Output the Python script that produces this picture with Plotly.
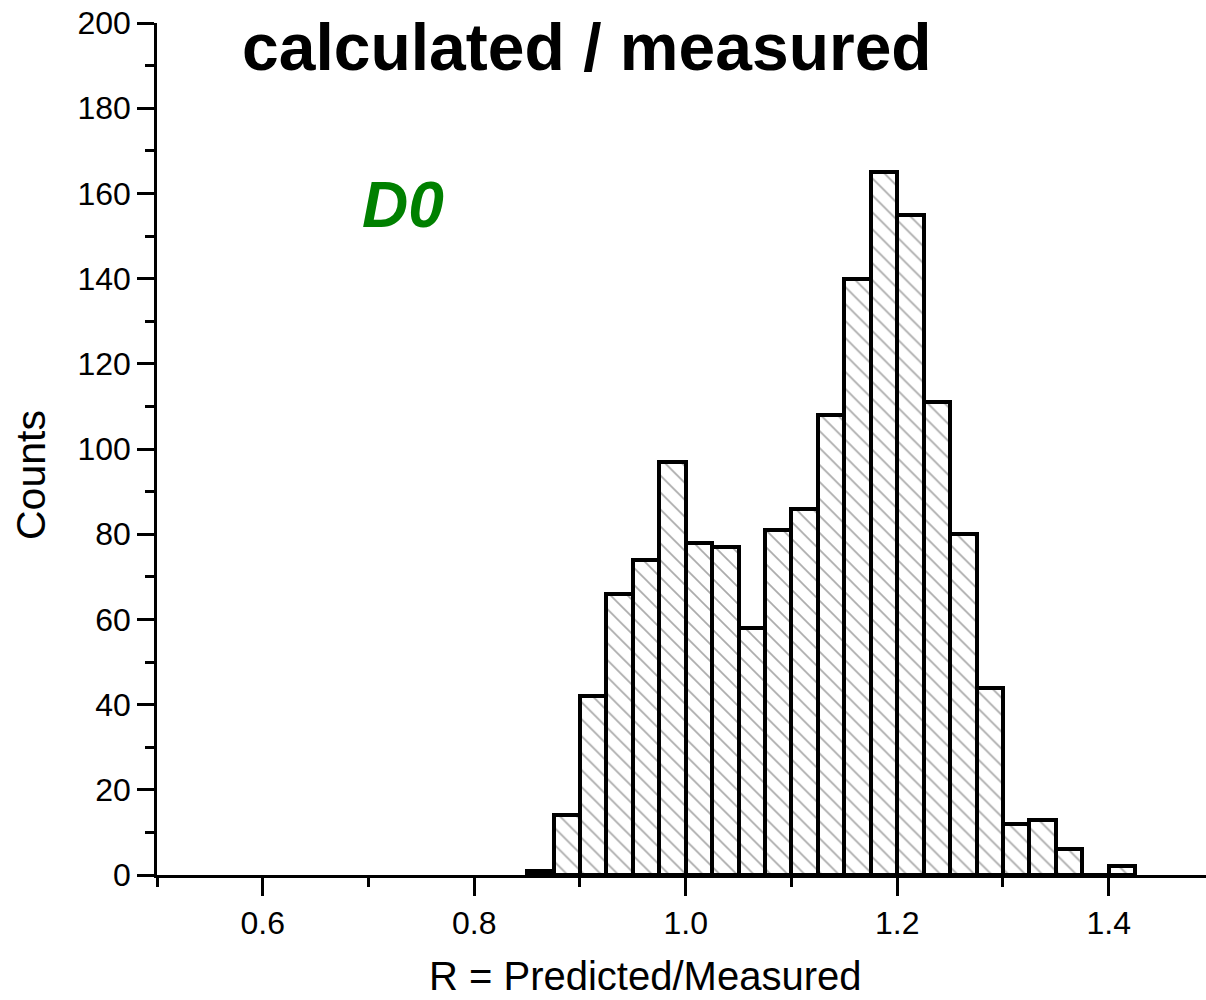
import plotly.graph_objects as go

bin_left = [0.85, 0.875, 0.9, 0.925, 0.95, 0.975, 1.0, 1.025, 1.05, 1.075, 1.1,
            1.125, 1.15, 1.175, 1.2, 1.225, 1.25, 1.275, 1.3, 1.325, 1.35, 1.375, 1.4]
counts = [1, 14, 42, 66, 74, 97, 78, 77, 58, 81, 86,
          108, 140, 165, 155, 111, 80, 44, 12, 13, 6, 0, 2]
bin_width = 0.025
x_tickvals = [0.6, 0.8, 1.0, 1.2, 1.4]
x_ticktext = ["0.6", "0.8", "1.0", "1.2", "1.4"]
y_tickvals = [0, 20, 40, 60, 80, 100, 120, 140, 160, 180, 200]

centers = [b + bin_width / 2 for b in bin_left]

fig = go.Figure()
fig.add_trace(go.Bar(
    x=centers, y=counts, width=bin_width,
    marker=dict(color="white",
                line=dict(color="black", width=4),
                pattern=dict(shape="\\", fgcolor="#555555", bgcolor="white",
                             size=12, solidity=0.14)),
    showlegend=False,
))

font_family = "Liberation Sans, Arial, sans-serif"

plot_l, plot_t, plot_b = 157, 23, 125
plot_w = 1206 - plot_l
plot_h = 1000 - plot_t - plot_b

def px_x(px):
    return (px - plot_l) / plot_w

def px_y(py):
    return (1000 - plot_b - py) / plot_h

fig.update_layout(
    width=1206, height=1000,
    margin=dict(l=plot_l, r=0, t=plot_t, b=plot_b),
    plot_bgcolor="white", paper_bgcolor="white",
    bargap=0,
    font=dict(family=font_family, color="black"),
    xaxis=dict(
        range=[0.5, 1.492], showgrid=False, zeroline=False,
        showline=True, linecolor="black", linewidth=2.5,
        ticks="outside", ticklen=18, tickwidth=2.5, tickcolor="black",
        tickvals=x_tickvals, ticktext=x_ticktext,
        tickfont=dict(size=32, family=font_family),
        minor=dict(dtick=0.1, ticks="outside", ticklen=9, tickwidth=2.5, tickcolor="black", showgrid=False),
    ),
    yaxis=dict(
        range=[0, 200], showgrid=False, zeroline=False,
        showline=True, linecolor="black", linewidth=2.5,
        ticks="outside", ticklen=17, tickwidth=2.5, tickcolor="black",
        tickvals=y_tickvals,
        tickfont=dict(size=32, family=font_family),
        minor=dict(dtick=10, ticks="outside", ticklen=9, tickwidth=2.5, tickcolor="black", showgrid=False),
    ),
    annotations=[
        dict(text="<b>calculated / measured</b>", x=px_x(587), y=px_y(47), xref="paper", yref="paper",
             showarrow=False, font=dict(size=66, family=font_family, color="black"),
             xanchor="center", yanchor="middle"),
        dict(text="<b><i>D0</i></b>", x=px_x(403), y=px_y(205), xref="paper", yref="paper",
             showarrow=False, font=dict(size=64, family=font_family, color="#008000"),
             xanchor="center", yanchor="middle"),
        dict(text="R = Predicted/Measured", x=px_x(645), y=px_y(999), xref="paper", yref="paper",
             showarrow=False, font=dict(size=40, family=font_family, color="black"),
             xanchor="center", yanchor="bottom", borderpad=0),
        dict(text="Counts", x=px_x(31), y=px_y(475), xref="paper", yref="paper",
             showarrow=False, font=dict(size=41, family=font_family, color="black"),
             xanchor="center", yanchor="middle", textangle=-90),
    ],
)

fig.write_html("out.html")
